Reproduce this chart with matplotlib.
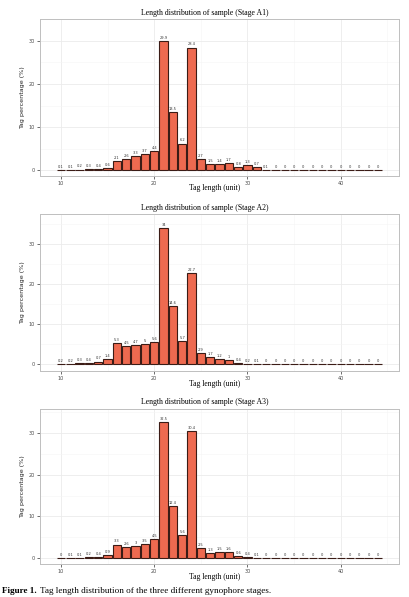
import numpy as np
import matplotlib
matplotlib.use("Agg")
from matplotlib import pyplot as plt

lengths = list(range(10, 45))

stage_a1 = [0.1, 0.1, 0.2, 0.3, 0.4, 0.6, 2.1, 2.6, 3.3, 3.7, 4.4, 29.9, 13.5, 6.2, 28.4,
            2.7, 1.5, 1.4, 1.7, 0.8, 1.3, 0.7, 0.1] + [0] * 12
stage_a2 = [0.2, 0.2, 0.3, 0.4, 0.7, 1.4, 5.3, 4.5, 4.7, 5, 5.6, 34, 14.6, 5.7, 22.7,
            2.9, 1.7, 1.2, 1, 0.4, 0.2, 0.1] + [0] * 13
stage_a3 = [0, 0.1, 0.1, 0.2, 0.4, 0.9, 3.3, 2.6, 3, 3.5, 4.5, 32.5, 12.4, 5.6, 30.4,
            2.5, 1.3, 1.5, 1.6, 0.6, 0.4, 0.1] + [0] * 13

stages = ["A1", "A2", "A3"]
series = [stage_a1, stage_a2, stage_a3]

W, H = 410, 597
# panel boxes in pixels: (top, bottom), and y limits
boxes = [(19, 176), (214, 371), (409, 564)]
ylims = [(-1.3, 33.1), (-1.67, 37.5), (-1.36, 35.7)]
title_y = [13, 208, 402]
xlab_y = [188, 384, 577]

fill = "#EE6A50"
edge = "#3b1c16"
serif = "Liberation Serif"

fig = plt.figure(figsize=(W / 100, H / 100), dpi=100)

def label(v):
    return "%g" % v

for i in range(3):
    top, bot = boxes[i]
    ax = fig.add_axes([40 / W, 1 - bot / H, 359 / W, (bot - top) / H])
    vals = series[i]
    ax.bar(lengths, vals, width=0.9, color=fill, edgecolor=edge, linewidth=0.8, zorder=3)
    for x, v in zip(lengths, vals):
        ax.text(x, v + 0.25, label(v), ha="center", va="bottom", fontsize=2.6,
                color="#333333", zorder=4)
    ax.set_xlim(7.75, 46.25)
    ax.set_ylim(*ylims[i])
    ax.set_xticks([10, 20, 30, 40])
    ax.set_xticks([15, 25, 35, 45], minor=True)
    ax.set_yticks([0, 10, 20, 30])
    ax.set_yticks([5, 15, 25, 35], minor=True)
    ax.grid(True, which="major", color="#ebebeb", linewidth=0.6, zorder=0)
    ax.grid(True, which="minor", color="#f5f5f5", linewidth=0.4, zorder=0)
    ax.tick_params(which="major", length=2, width=0.5, color="#333333",
                   labelsize=3.6, labelcolor="#4d4d4d", pad=1.5)
    ax.tick_params(which="minor", length=0)
    for s in ax.spines.values():
        s.set_color("#bfbfbf")
        s.set_linewidth(0.7)
    ax.set_ylabel("Tag percentage (%)", fontsize=4.6, color="#222222", labelpad=3)
    fig.text(205 / W, 1 - title_y[i] / H, "Length distribution of sample (Stage %s)" % stages[i],
             ha="center", va="center", fontsize=5.6, family=serif)
    fig.text(215 / W, 1 - xlab_y[i] / H, "Tag length (unit)", ha="center", va="center",
             fontsize=5.5, family=serif)

cap1 = fig.text(2 / W, 1 - 591 / H, "Figure 1.", ha="left", va="center", fontsize=6.6,
                family=serif, weight="bold")
fig.canvas.draw()
bb = cap1.get_window_extent(fig.canvas.get_renderer())
fig.text(bb.x1 / W + 3 / W, 1 - 591 / H,
         "Tag length distribution of the three different gynophore stages.",
         ha="left", va="center", fontsize=6.6, family=serif)

fig.savefig("out.png", dpi=100)
